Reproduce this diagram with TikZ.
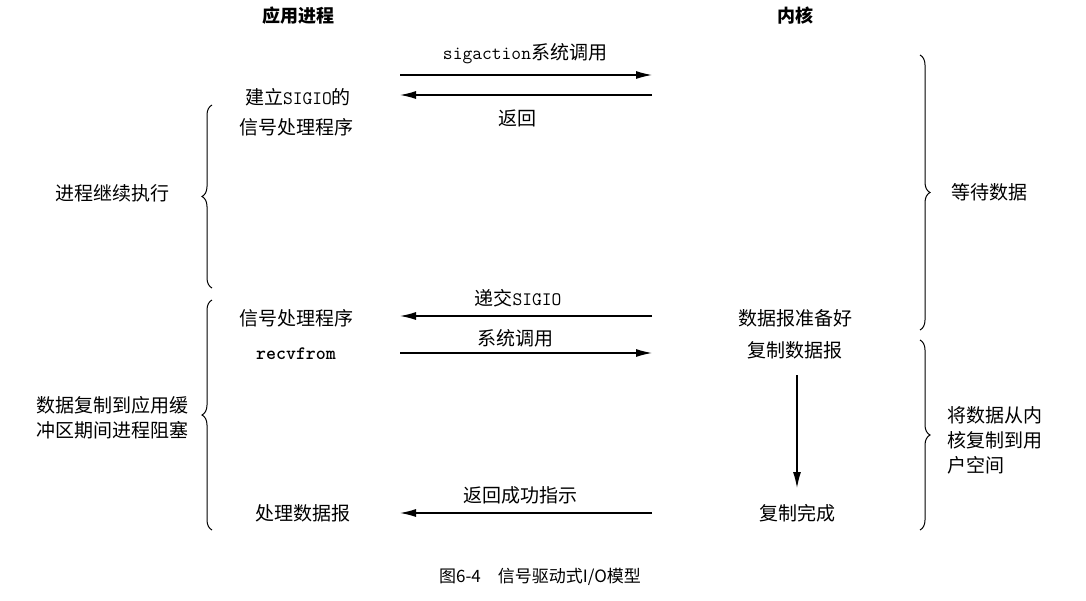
\documentclass[tikz,border=0pt]{standalone}
\usepackage{fontspec}
\newfontfamily\cjk{Noto Sans CJK SC}
\usetikzlibrary{arrows.meta,decorations.pathreplacing}
\begin{document}
\begin{tikzpicture}[x=1pt,y=-1pt,
  lbl/.style={font=\cjk\fontsize{19}{25}\selectfont,inner sep=1pt},
  arr/.style={-{Latex[length=16pt,width=8pt]},line width=1.2pt},
  brc/.style={decorate,decoration={brace,amplitude=10pt},line width=1pt}]
\useasboundingbox (0,0) rectangle (1086,600);
\node[lbl,font=\cjk\bfseries\fontsize{18}{22}\selectfont] (hA) at (298,16) {应用进程};
\node[lbl,font=\cjk\bfseries\fontsize{18}{22}\selectfont] (hK) at (795,16) {内核};
% sigaction
\coordinate (a1s) at (400,75); \coordinate (a1e) at (652,75);
\draw[arr] (a1s) -- (a1e);
\node[lbl] (l1) at (525,54) {\ttfamily sigaction\cjk 系统调用};
\coordinate (a2s) at (652,95); \coordinate (a2e) at (400,95);
\draw[arr] (a2s) -- (a2e);
\node[lbl] (l2) at (517,118) {返回};
\node[lbl] (s1) at (298,97) {建立\ttfamily SIGIO\cjk 的};
\node[lbl] (s2) at (296,127) {信号处理程序};
% braces
\coordinate (b1a) at (212,288); \coordinate (b1b) at (212,105);
\draw[brc] (b1a) -- (b1b);
\node[lbl] (c1) at (112,193) {进程继续执行};
\coordinate (b2a) at (920,55); \coordinate (b2b) at (920,330);
\draw[brc] (b2a) -- (b2b);
\node[lbl,anchor=west] (w1) at (950,192) {等待数据};
% deliver
\node[lbl] (l3) at (518,298) {递交\ttfamily SIGIO};
\coordinate (a3s) at (652,316); \coordinate (a3e) at (400,316);
\draw[arr] (a3s) -- (a3e);
\node[lbl] (s3) at (296,318) {信号处理程序};
\node[lbl,font=\ttfamily\bfseries\fontsize{19}{22}\selectfont] (s4) at (296,354) {recvfrom};
\coordinate (a4s) at (400,353); \coordinate (a4e) at (652,353);
\draw[arr] (a4s) -- (a4e);
\node[lbl] (l4) at (515,338) {系统调用};
\node[lbl] (k1) at (795,318) {数据报准备好};
\node[lbl] (k2) at (795,350) {复制数据报};
\coordinate (d1) at (797,375); \coordinate (d2) at (797,488);
\draw[arr] (d1) -- (d2);
\coordinate (b3a) at (212,530); \coordinate (b3b) at (212,300);
\draw[brc] (b3a) -- (b3b);
\node[lbl,align=left] (c2) at (112,418) {数据复制到应用缓\\冲区期间进程阻塞};
\coordinate (b4a) at (920,340); \coordinate (b4b) at (920,530);
\draw[brc] (b4a) -- (b4b);
\node[lbl,align=left,anchor=west] (w2) at (946,440) {将数据从内\\核复制到用\\户空间};
\node[lbl] (s5) at (303,513) {处理数据报};
\coordinate (a5s) at (652,513); \coordinate (a5e) at (400,513);
\draw[arr] (a5s) -- (a5e);
\node[lbl] (l5) at (520,495) {返回成功指示};
\node[lbl] (k3) at (797,513) {复制完成};
\node[lbl,font=\cjk\fontsize{17}{22}\selectfont] (cap) at (540,577) {图6-4\quad 信号驱动式I/O模型};
\end{tikzpicture}
\end{document}
